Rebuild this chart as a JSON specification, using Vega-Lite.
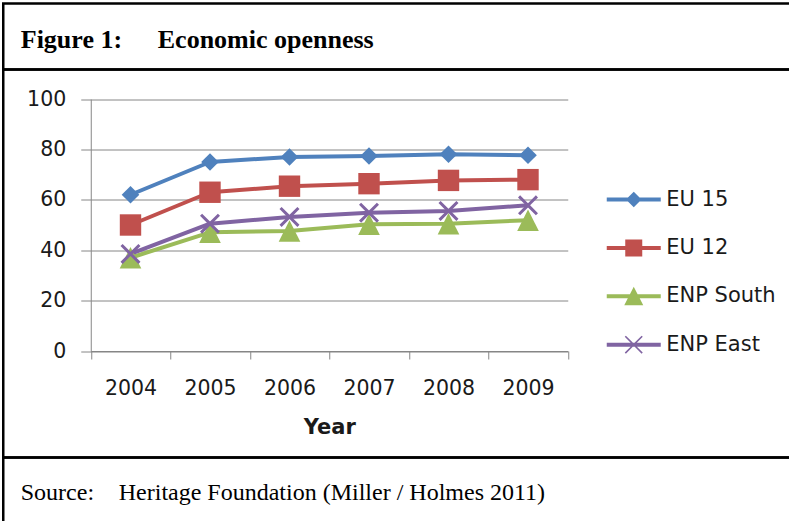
{
  "$schema": "https://vega.github.io/schema/vega-lite/v6.json",
  "background": "white",
  "padding": {"left": 1.25, "top": 1.5, "right": -14.75, "bottom": -21.5},
  "spacing": 0,
  "bounds": "flush",
  "config": {
    "view": {"stroke": "#000000", "strokeWidth": 2.5},
    "font": "DejaVu Sans"
  },
  "vconcat": [
    {
      "width": 800,
      "height": 66,
      "data": {"values": [{"label": "Figure 1:"}, {"label": "Economic openness"}]},
      "mark": {"type": "text", "align": "left", "baseline": "alphabetic", "dy": 11, "font": "Liberation Serif", "fontSize": 26, "fontWeight": "bold", "color": "#000000"},
      "encoding": {
        "x": {"field": "label", "type": "nominal", "scale": {"type": "point", "domain": ["Figure 1:", "Economic openness"], "range": [17.5, 154.5], "padding": 0}, "axis": null},
        "text": {"field": "label"}
      }
    },
    {
      "width": 800,
      "height": 388,
      "data": {
        "values": [
          {"series": "EU 15", "year": "2004", "value": 62},
          {"series": "EU 15", "year": "2005", "value": 75},
          {"series": "EU 15", "year": "2006", "value": 77},
          {"series": "EU 15", "year": "2007", "value": 77.4},
          {"series": "EU 15", "year": "2008", "value": 78.1},
          {"series": "EU 15", "year": "2009", "value": 77.7},
          {"series": "EU 12", "year": "2004", "value": 50},
          {"series": "EU 12", "year": "2005", "value": 63},
          {"series": "EU 12", "year": "2006", "value": 65.4},
          {"series": "EU 12", "year": "2007", "value": 66.4},
          {"series": "EU 12", "year": "2008", "value": 67.7},
          {"series": "EU 12", "year": "2009", "value": 68},
          {"series": "ENP South", "year": "2004", "value": 37},
          {"series": "ENP South", "year": "2005", "value": 47.1},
          {"series": "ENP South", "year": "2006", "value": 47.6},
          {"series": "ENP South", "year": "2007", "value": 50.3},
          {"series": "ENP South", "year": "2008", "value": 50.5},
          {"series": "ENP South", "year": "2009", "value": 51.9},
          {"series": "ENP East", "year": "2004", "value": 38.5},
          {"series": "ENP East", "year": "2005", "value": 50.5},
          {"series": "ENP East", "year": "2006", "value": 53.2},
          {"series": "ENP East", "year": "2007", "value": 54.9},
          {"series": "ENP East", "year": "2008", "value": 55.6},
          {"series": "ENP East", "year": "2009", "value": 57.8}
        ]
      },
      "encoding": {
        "x": {
          "field": "year",
          "type": "ordinal",
          "bandPosition": 0.5,
          "scale": {"type": "band", "range": [87.5, 564.5], "paddingInner": 0, "paddingOuter": 0},
          "axis": {
            "title": "Year",
            "titleFont": "DejaVu Sans",
            "titleFontSize": 21,
            "titleFontWeight": "bold",
            "titleColor": "#1a1a1a",
            "titleBaseline": "alphabetic",
            "titleY": 82,
            "labelAngle": 0,
            "labelFont": "DejaVu Sans",
            "labelFontSize": 20.5,
            "labelColor": "#1a1a1a",
            "labelBaseline": "alphabetic",
            "labelPadding": 35,
            "tickSize": 8,
            "tickColor": "#868686",
            "tickWidth": 1,
            "domainColor": "#868686",
            "domainWidth": 1,
            "tickBand": "extent",
            "offset": -106.5,
            "grid": false
          }
        },
        "y": {
          "field": "value",
          "type": "quantitative",
          "scale": {"domain": [0, 100], "range": [281.5, 29.5], "nice": false},
          "axis": {
            "title": null,
            "values": [0, 20, 40, 60, 80, 100],
            "offset": -87.5,
            "grid": true,
            "gridColor": "#868686",
            "gridWidth": 1,
            "domainColor": "#868686",
            "domainWidth": 1,
            "tickColor": "#868686",
            "tickWidth": 1,
            "tickSize": 10,
            "labelPadding": 15,
            "labelFont": "DejaVu Sans",
            "labelFontSize": 20.5,
            "labelColor": "#1a1a1a"
          }
        }
      },
      "layer": [
        {
          "mark": {"type": "line", "strokeWidth": 4, "strokeCap": "round", "strokeJoin": "round"},
          "encoding": {
            "stroke": {"field": "series", "type": "nominal", "scale": {"range": ["#8064A2", "#9BBB59", "#C0504D", "#4F81BD"]}, "legend": null}
          }
        },
        {
          "transform": [{"filter": "datum.series === 'EU 15'"}],
          "mark": {"type": "point", "filled": true, "opacity": 1, "size": 400, "color": "#4F81BD", "shape": "M0,-0.88L0.88,0L0,0.88L-0.88,0Z"}
        },
        {
          "transform": [{"filter": "datum.series === 'EU 12'"}],
          "mark": {"type": "point", "filled": true, "opacity": 1, "size": 400, "color": "#C0504D", "shape": "M-1.07,-1.07H1.07V1.07H-1.07Z"}
        },
        {
          "transform": [{"filter": "datum.series === 'ENP South'"}],
          "mark": {"type": "point", "filled": true, "opacity": 1, "size": 400, "color": "#9BBB59", "shape": "M0,-1.08L1.08,1.08H-1.08Z"}
        },
        {
          "transform": [{"filter": "datum.series === 'ENP East'"}],
          "mark": {"type": "point", "filled": true, "opacity": 1, "size": 400, "color": "#8064A2", "shape": "M-1,-0.788L-0.788,-1L0,-0.212L0.788,-1L1,-0.788L0.212,0L1,0.788L0.788,1L0,0.212L-0.788,1L-1,0.788L-0.212,0Z"}
        },
        {
          "transform": [{"filter": "datum.value < 0"}],
          "mark": {"type": "point", "filled": true, "opacity": 1, "size": 400},
          "encoding": {
            "color": {
              "field": "series", "type": "nominal",
              "scale": {"domain": ["EU 15", "EU 12", "ENP South", "ENP East"], "range": ["#4F81BD", "#C0504D", "#9BBB59", "#8064A2"]},
              "legend": {"orient": "none", "legendX": 620, "legendY": 185.5, "title": null, "padding": 0, "labelFont": "DejaVu Sans", "labelFontSize": 21, "labelColor": "#1a1a1a", "labelOffset": 22, "rowPadding": 26.4, "symbolSize": 400, "symbolStrokeWidth": 0}
            },
            "shape": {
              "field": "series", "type": "nominal",
              "scale": {
                "domain": ["EU 15", "EU 12", "ENP South", "ENP East"],
                "range": [
                  "M-2.7,-0.2H2.7V0.2H-2.7ZM0,-0.78L0.78,0L0,0.78L-0.78,0Z",
                  "M-2.7,-0.2H2.7V0.2H-2.7ZM-0.85,-0.85H0.85V0.85H-0.85Z",
                  "M-2.7,-0.2H2.7V0.2H-2.7ZM0,-0.95L0.95,0.9H-0.95Z",
                  "M-2.7,-0.2H2.7V0.2H-2.7ZM-0.9,-0.787L-0.787,-0.9L0,-0.113L0.787,-0.9L0.9,-0.787L0.113,0L0.9,0.787L0.787,0.9L0,0.113L-0.787,0.9L-0.9,0.787L-0.113,0Z"
                ]
              },
              "legend": {"orient": "none", "legendX": 620, "legendY": 185.5, "title": null, "padding": 0, "labelFont": "DejaVu Sans", "labelFontSize": 21, "labelColor": "#1a1a1a", "labelOffset": 22, "rowPadding": 26.4, "symbolSize": 400, "symbolStrokeWidth": 0}
            }
          }
        }
      ]
    },
    {
      "width": 800,
      "height": 84,
      "data": {"values": [{"label": "Source:"}, {"label": "Heritage Foundation (Miller / Holmes 2011)"}]},
      "mark": {"type": "text", "align": "left", "baseline": "alphabetic", "font": "Liberation Serif", "fontSize": 24, "color": "#000000"},
      "encoding": {
        "x": {"field": "label", "type": "nominal", "scale": {"type": "point", "domain": ["Source:", "Heritage Foundation (Miller / Holmes 2011)"], "range": [17.5, 115.5], "padding": 0}, "axis": null},
        "text": {"field": "label"}
      }
    }
  ]
}
